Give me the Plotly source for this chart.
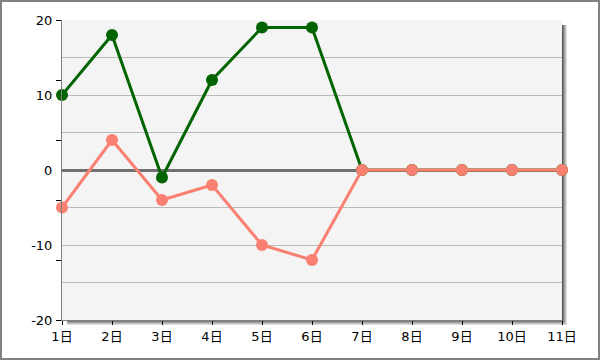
import plotly.graph_objects as go

categories = ["1日", "2日", "3日", "4日", "5日", "6日", "7日", "8日", "9日", "10日", "11日"]
series_green = [10, 18, -1, 12, 19, 19, 0, 0, 0, 0, 0]
series_salmon = [-5, 4, -4, -2, -10, -12, 0, 0, 0, 0, 0]
y_label_vals = [20, 10, 0, -10, -20]
y_tick_vals = [20, 12, 4, -4, -12, -20]

W, H = 600, 360
L, R, T, B = 62, 38, 20, 40
pw, ph = W - L - R, H - T - B

def px(x):
    return (x - L) / pw

def py(y):
    return (H - B - y) / ph

fig = go.Figure()
fig.add_trace(go.Scatter(x=categories, y=series_green, mode="lines+markers",
                         line=dict(color="#006400", width=3), cliponaxis=False,
                         marker=dict(color="#006400", size=12), showlegend=False))
fig.add_trace(go.Scatter(x=categories, y=series_salmon, mode="lines+markers",
                         line=dict(color="#FA8072", width=3), cliponaxis=False,
                         marker=dict(color="#FA8072", size=12), showlegend=False))
fig.add_trace(go.Scatter(x=[categories[0]], y=[0], yaxis="y2", mode="markers",
                         marker=dict(opacity=0), showlegend=False, hoverinfo="skip"))

font = dict(family="DejaVu Sans, Noto Sans CJK JP", size=13, color="black")

shapes = []
for i, col in enumerate(["#555555", "#808080", "#a0a0a0", "#c0c0c0", "#dddddd"]):
    shapes.append(dict(type="rect", xref="paper", yref="paper",
                       x0=px(562 + i), x1=px(563 + i), y0=py(325), y1=py(25),
                       fillcolor=col, line=dict(width=0), layer="below"))
    shapes.append(dict(type="rect", xref="paper", yref="paper",
                       x0=px(67), x1=px(563 + i), y0=py(320 + i), y1=py(321 + i),
                       fillcolor=col, line=dict(width=0), layer="below"))
shapes.append(dict(type="rect", xref="paper", yref="paper",
                   x0=px(1), x1=px(599), y0=py(359), y1=py(1),
                   line=dict(color="#808080", width=2), fillcolor="rgba(0,0,0,0)"))

fig.update_layout(
    width=W, height=H,
    margin=dict(l=L, r=R, t=T, b=B, pad=0),
    paper_bgcolor="white", plot_bgcolor="#F4F4F4",
    font=font,
    shapes=shapes,
    xaxis=dict(type="category", range=[0, 10], showgrid=False, zeroline=False,
               showline=True, linecolor="#808080", linewidth=1,
               ticks="outside", ticklen=4, tickcolor="black", tickwidth=1,
               tickfont=font, categoryorder="array", categoryarray=categories),
    yaxis=dict(range=[-20, 20], tickvals=y_label_vals, ticktext=[str(v) for v in y_label_vals],
               showgrid=True, gridcolor="#BBBBBB", gridwidth=1,
               zeroline=True, zerolinecolor="#707070", zerolinewidth=3,
               showline=True, linecolor="#808080", linewidth=1,
               ticks="", tickfont=font, ticklabelstandoff=6,
               minor=dict(tickvals=[15, 5, -5, -15], showgrid=True, gridcolor="#BBBBBB", gridwidth=1, ticks="")),
    yaxis2=dict(range=[-20, 20], overlaying="y", side="left", tickvals=y_tick_vals,
                showticklabels=False, ticks="outside", ticklen=5, tickcolor="black",
                showgrid=False, zeroline=False, showline=False),
)

fig.write_html("out.html", config={"displayModeBar": False},
               post_script="document.body.style.margin='0';document.body.style.overflow='hidden';")
